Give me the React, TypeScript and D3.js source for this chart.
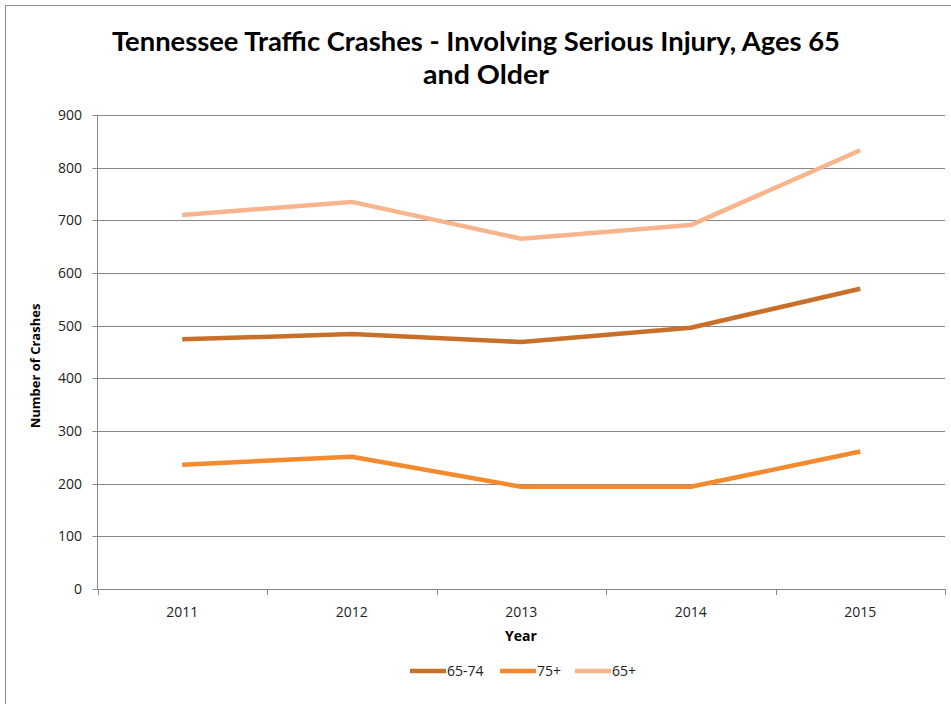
import React from "react";
import * as d3 from "d3";

const years = ["2011", "2012", "2013", "2014", "2015"];
const series65to74 = [474, 484, 469, 496, 570];
const series75plus = [236, 251, 194, 194, 261];
const series65plus = [710, 735, 665, 691, 833];
const seriesNames = ["65-74", "75+", "65+"];
const seriesColors = ["#C8702A", "#F38A2E", "#F8B48C"];
const yTicks = [0, 100, 200, 300, 400, 500, 600, 700, 800, 900];

const W = 951;
const H = 704;
const left = 97.5;
const right = 945;
const top = 115;
const bottom = 589;
const FONT = "'Open Sans', 'Liberation Sans', sans-serif";
const TITLE_FONT = "Lato, 'Open Sans', sans-serif";

export default function App() {
  const x = d3.scaleBand<string>().domain(years).range([left, right]).paddingInner(0).paddingOuter(0);
  const y = d3.scaleLinear().domain([0, 900]).range([bottom, top]);
  const cx = (yr: string) => (x(yr) as number) + x.bandwidth() / 2;
  const line = d3
    .line<number>()
    .x((_, i) => cx(years[i]))
    .y((d) => y(d));
  const allSeries = [series65to74, series75plus, series65plus];
  const boundaries = years.map((yr) => x(yr) as number).concat([right]);
  const legendX = [410, 500, 575];

  return (
    <svg
      width={W}
      height={H}
      style={{ position: "absolute", left: 0, top: 0, background: "#fff" }}
      fontFamily={FONT}
    >
      <rect x={0} y={0} width={W} height={H} fill="#fff" />
      <line x1={5.5} y1={5.5} x2={W} y2={5.5} stroke="#8c8c8c" strokeWidth={1} />
      <line x1={5.5} y1={5.5} x2={5.5} y2={H} stroke="#8c8c8c" strokeWidth={1} />

      <text x={476} y={51} textAnchor="middle" fontFamily={TITLE_FONT} fontWeight="bold" fontSize={27} textLength={728} lengthAdjust="spacingAndGlyphs" fill="#000">
        Tennessee Traffic Crashes - Involving Serious Injury, Ages 65
      </text>
      <text x={486} y={84} textAnchor="middle" fontFamily={TITLE_FONT} fontWeight="bold" fontSize={27} textLength={126} lengthAdjust="spacingAndGlyphs" fill="#000">
        and Older
      </text>

      {yTicks.map((t) => (
        <g key={t}>
          <line x1={left} x2={right} y1={Math.round(y(t)) + 0.5} y2={Math.round(y(t)) + 0.5} stroke="#878787" strokeWidth={1} />
          <line x1={left - 5} x2={left} y1={Math.round(y(t)) + 0.5} y2={Math.round(y(t)) + 0.5} stroke="#878787" strokeWidth={1} />
          <text x={82} y={y(t) + 5} textAnchor="end" fontSize={14} fill="#222">
            {t}
          </text>
        </g>
      ))}
      <line x1={left} x2={left} y1={top} y2={bottom + 0.5} stroke="#878787" strokeWidth={1} />
      {boundaries.map((b, i) => (
        <line key={i} x1={Math.round(b) + 0.5} x2={Math.round(b) + 0.5} y1={bottom} y2={bottom + 6} stroke="#878787" strokeWidth={1} />
      ))}
      {years.map((yr) => (
        <text key={yr} x={cx(yr)} y={617} textAnchor="middle" fontSize={14} fill="#222">
          {yr}
        </text>
      ))}
      <text x={521} y={641} textAnchor="middle" fontSize={14} fontWeight="bold" fill="#000">
        Year
      </text>
      <text
        transform={`translate(40,366) rotate(-90)`}
        textAnchor="middle"
        fontSize={13}
        fontWeight="bold"
        fill="#000"
      >
        Number of Crashes
      </text>

      {allSeries.map((s, i) => (
        <path key={i} d={line(s) || ""} fill="none" stroke={seriesColors[i]} strokeWidth={4.5} strokeLinejoin="round" />
      ))}

      {seriesNames.map((n, i) => (
        <g key={n}>
          <line x1={legendX[i]} x2={legendX[i] + 36} y1={671} y2={671} stroke={seriesColors[i]} strokeWidth={4.5} />
          <text x={legendX[i] + 37} y={676} fontSize={14} fill="#222">
            {n}
          </text>
        </g>
      ))}
    </svg>
  );
}
